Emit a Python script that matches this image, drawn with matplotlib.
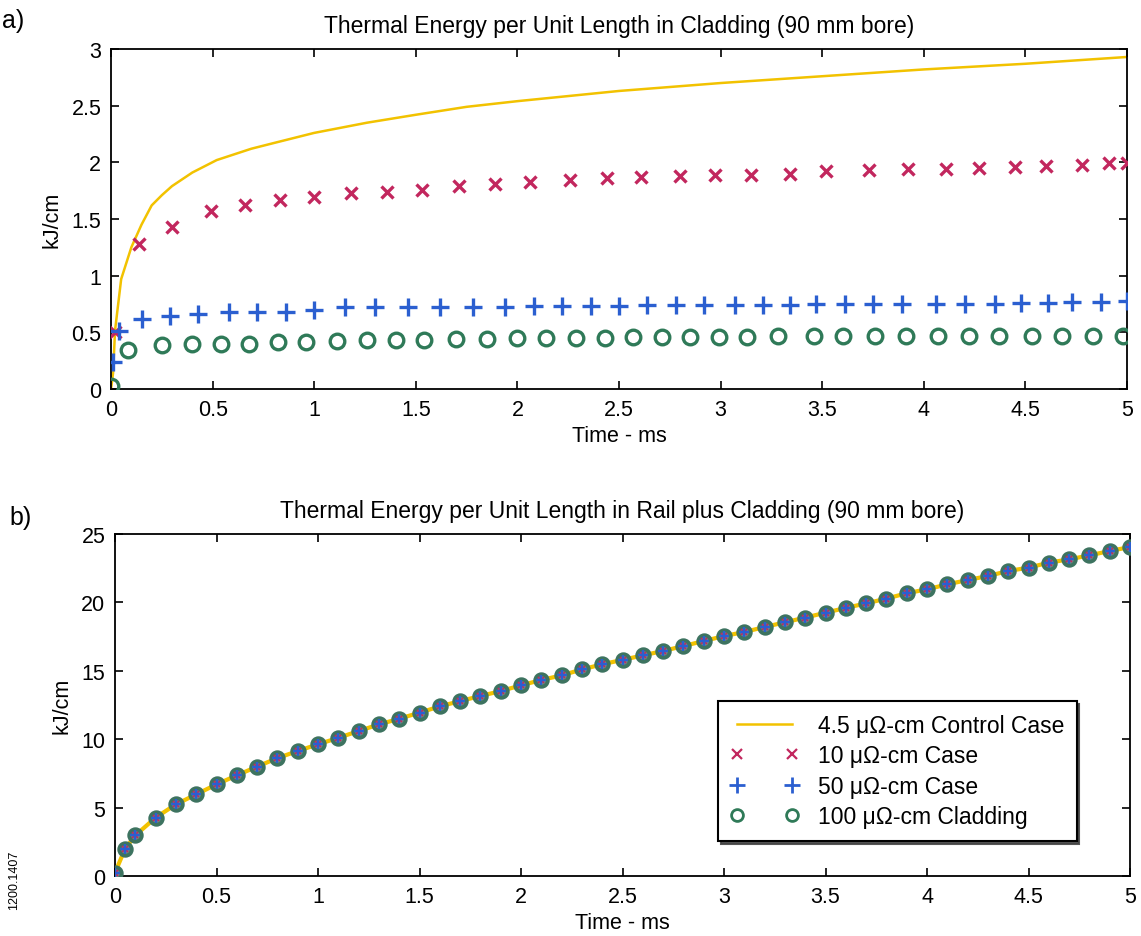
import matplotlib
matplotlib.use("Agg")
import matplotlib.pyplot as plt
from matplotlib.lines import Line2D

plt.rcParams['font.family'] = ['Liberation Sans', 'DejaVu Sans']

# ---- panel a) cladding only ----
t_ctrl_a = [0.0, 0.01, 0.02, 0.05, 0.10, 0.15, 0.20, 0.25, 0.30, 0.40, 0.52, 0.69, 0.80, 1.00, 1.26,
            1.50, 1.75, 2.00, 2.50, 3.00, 3.50, 4.00, 4.50, 5.0]
e_ctrl_a = [0.0, 0.14, 0.52, 0.97, 1.25, 1.45, 1.62, 1.71, 1.79, 1.91, 2.02, 2.12, 2.17, 2.26, 2.35,
            2.42, 2.49, 2.54, 2.63, 2.70, 2.76, 2.82, 2.87, 2.93]

t_10_a = [0.02, 0.14, 0.30, 0.49, 0.66, 0.83, 1.00, 1.18, 1.36, 1.53, 1.71, 1.89, 2.06, 2.26, 2.44,
          2.61, 2.80, 2.97, 3.15, 3.34, 3.52, 3.73, 3.92, 4.11, 4.27, 4.45, 4.60, 4.78, 4.91, 5.0]
e_10_a = [0.50, 1.28, 1.43, 1.57, 1.62, 1.67, 1.69, 1.73, 1.74, 1.76, 1.79, 1.81, 1.83, 1.84, 1.86,
          1.87, 1.88, 1.89, 1.89, 1.90, 1.92, 1.93, 1.94, 1.94, 1.95, 1.96, 1.97, 1.98, 1.99, 1.99]

t_50_a = [0.01, 0.04, 0.15, 0.29, 0.43, 0.58, 0.72, 0.86, 1.00, 1.15, 1.30, 1.46, 1.62, 1.78, 1.94,
          2.08, 2.22, 2.36, 2.50, 2.64, 2.78, 2.92, 3.07, 3.21, 3.34, 3.47, 3.61, 3.75, 3.89, 4.06,
          4.20, 4.35, 4.48, 4.61, 4.73, 4.87, 5.0]
e_50_a = [0.24, 0.51, 0.62, 0.64, 0.665, 0.68, 0.68, 0.68, 0.70, 0.72, 0.72, 0.72, 0.72, 0.72, 0.72,
          0.73, 0.73, 0.73, 0.73, 0.74, 0.74, 0.74, 0.74, 0.74, 0.74, 0.75, 0.75, 0.75, 0.75, 0.75,
          0.75, 0.75, 0.76, 0.76, 0.77, 0.77, 0.78]

t_100_a = [0.0, 0.085, 0.25, 0.40, 0.54, 0.68, 0.82, 0.96, 1.11, 1.26, 1.40, 1.54, 1.70, 1.85, 2.00,
           2.14, 2.29, 2.43, 2.57, 2.71, 2.85, 2.99, 3.13, 3.28, 3.46, 3.60, 3.76, 3.91, 4.07, 4.22,
           4.37, 4.53, 4.68, 4.83, 4.98]
e_100_a = [0.03, 0.34, 0.385, 0.40, 0.40, 0.40, 0.415, 0.415, 0.42, 0.43, 0.43, 0.43, 0.445, 0.445, 0.45,
           0.45, 0.45, 0.45, 0.455, 0.455, 0.455, 0.46, 0.46, 0.47, 0.47, 0.47, 0.47, 0.47, 0.47, 0.47,
           0.47, 0.47, 0.47, 0.47, 0.47]

# ---- panel b) rail plus cladding (all cases coincide) ----
t_b = [0.0, 0.05, 0.1, 0.2, 0.3, 0.4, 0.5, 0.6, 0.7, 0.8, 0.9, 1.0, 1.1, 1.2, 1.3, 1.4, 1.5, 1.6,
       1.7, 1.8, 1.9, 2.0, 2.1, 2.2, 2.3, 2.4, 2.5, 2.6, 2.7, 2.8, 2.9, 3.0, 3.1, 3.2, 3.3, 3.4,
       3.5, 3.6, 3.7, 3.8, 3.9, 4.0, 4.1, 4.2, 4.3, 4.4, 4.5, 4.6, 4.7, 4.8, 4.9, 5.0]
e_b = [0.25, 2.0, 2.97, 4.27, 5.24, 5.97, 6.70, 7.36, 8.0, 8.62, 9.14, 9.63, 10.1, 10.6, 11.08, 11.5,
       11.94, 12.4, 12.79, 13.16, 13.52, 13.94, 14.33, 14.67, 15.1, 15.48, 15.8, 16.13, 16.45, 16.81,
       17.18, 17.54, 17.84, 18.2, 18.55, 18.89, 19.25, 19.6, 19.93, 20.28, 20.67, 20.96, 21.32, 21.64,
       21.93, 22.3, 22.54, 22.91, 23.15, 23.44, 23.76, 24.05]
e_10_b = e_b
e_50_b = e_b
e_100_b = e_b

labels = ["4.5 \u03bc\u03a9-cm Control Case", "10 \u03bc\u03a9-cm Case",
          "50 \u03bc\u03a9-cm Case", "100 \u03bc\u03a9-cm Cladding"]

YEL = "#f2c200"
RED = "#c2275e"
BLU = "#2b5fd0"
GRN = "#2f7a58"

fig = plt.figure(figsize=(11.41, 9.37), dpi=100)
ax1 = fig.add_axes([0.0973, 0.5838, 0.8905, 0.3628])
ax2 = fig.add_axes([0.1008, 0.0640, 0.8896, 0.3650])

# top panel
ax1.plot(t_ctrl_a, e_ctrl_a, color=YEL, lw=1.8, zorder=2)
ax1.plot(t_10_a, e_10_a, ls="none", marker="x", ms=9, mew=2.4, color=RED, zorder=3)
ax1.plot(t_50_a, e_50_a, ls="none", marker="+", ms=13, mew=2.4, color=BLU, zorder=3)
ax1.plot(t_100_a, e_100_a, ls="none", marker="o", ms=10.5, mew=2.4, mfc="none", mec=GRN, zorder=3)
ax1.set_xlim(0, 5)
ax1.set_ylim(0, 3)
ax1.set_yticks([0, 0.5, 1, 1.5, 2, 2.5, 3])
ax1.set_yticklabels(["0", "0.5", "1", "1.5", "2", "2.5", "3"])
ax1.set_title("Thermal Energy per Unit Length in Cladding (90 mm bore)", fontsize=16.5, pad=12)

# bottom panel
ax2.plot([0.0] + t_b, [0.0] + e_b, color=YEL, lw=3, zorder=2)
ax2.plot(t_b, e_100_b, ls="none", marker="o", ms=9, mew=2.8, mfc="#6f8a84", mec="#3d7360", zorder=3)
ax2.plot(t_b, e_10_b, ls="none", marker="x", ms=5, mew=1.2, color=RED, zorder=4)
ax2.plot(t_b, e_50_b, ls="none", marker="+", ms=7.5, mew=1.7, color=BLU, zorder=5)
ax2.set_xlim(0, 5)
ax2.set_ylim(0, 25)
ax2.set_title("Thermal Energy per Unit Length in Rail plus Cladding (90 mm bore)", fontsize=16.5, pad=12)

handles = [Line2D([], [], color=YEL, lw=1.8),
           Line2D([], [], ls="none", marker="x", ms=7, mew=1.6, color=RED),
           Line2D([], [], ls="none", marker="+", ms=11, mew=2.0, color=BLU),
           Line2D([], [], ls="none", marker="o", ms=8.5, mew=2.0, mfc="none", mec=GRN)]
leg = ax2.legend(handles, labels, loc="upper left", bbox_to_anchor=(0.594, 0.512),
                 borderaxespad=0, numpoints=2, fontsize=16.5, fancybox=False,
                 shadow={"color": "#444444", "alpha": 0.9},
                 framealpha=1, edgecolor="black", handlelength=3.0, handletextpad=0.8,
                 labelspacing=0.33, borderpad=0.55)
leg.get_frame().set_linewidth(1.5)

for ax in (ax1, ax2):
    ax.set_xticks([0, 0.5, 1, 1.5, 2, 2.5, 3, 3.5, 4, 4.5, 5])
    ax.set_xticklabels(["0", "0.5", "1", "1.5", "2", "2.5", "3", "3.5", "4", "4.5", "5"])
    ax.tick_params(direction="in", length=6, width=1.2, top=True, right=True, labelsize=15.5, pad=7)
    for s in ax.spines.values():
        s.set_linewidth(1.3)
    ax.set_xlabel("Time - ms", fontsize=15.5, labelpad=4)
    ax.set_ylabel("kJ/cm", fontsize=15.5, labelpad=6)

fig.text(0.002, 0.970, "a)", fontsize=18)
fig.text(0.008, 0.440, "b)", fontsize=18)
fig.text(0.012, 0.06, "1200.1407", fontsize=9, rotation=90, va="center", ha="center")

fig.savefig("out.png", dpi=100)
